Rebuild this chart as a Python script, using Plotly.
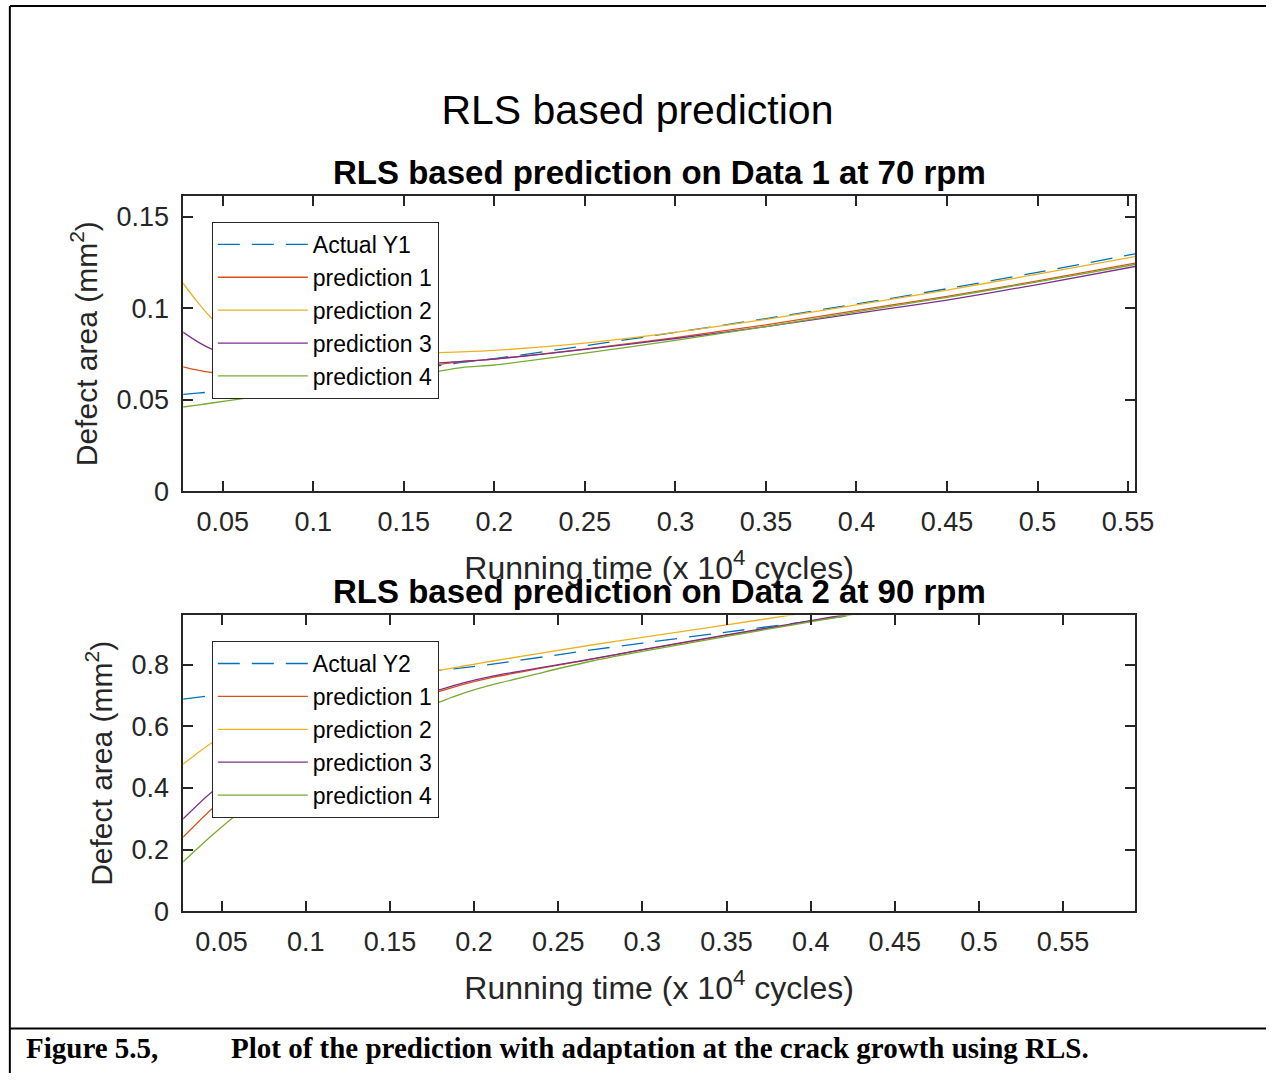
import plotly.graph_objects as go

# ---------------- data ----------------
x_top = [0.028, 0.036, 0.044, 0.06, 0.08, 0.1, 0.125, 0.15, 0.182, 0.2, 0.25, 0.3, 0.35, 0.417, 0.45, 0.5, 0.554]
actual_y1 = [0.0529, 0.0536, 0.0543, 0.0558, 0.0577, 0.0598, 0.0626, 0.0656, 0.0705, 0.0725, 0.0795, 0.0868, 0.0944, 0.1051, 0.1107, 0.1197, 0.1298]
top_pred1 = [0.0680, 0.0662, 0.0649, 0.0640, 0.0638, 0.0642, 0.0650, 0.0668, 0.0708, 0.0722, 0.0777, 0.0840, 0.0910, 0.1015, 0.1065, 0.1150, 0.1248]
top_pred2 = [0.1139, 0.1035, 0.0945, 0.0850, 0.0790, 0.0765, 0.0752, 0.0752, 0.0762, 0.0770, 0.0810, 0.0868, 0.0940, 0.1046, 0.1100, 0.1187, 0.1283]
top_pred3 = [0.0870, 0.0818, 0.0777, 0.0735, 0.0705, 0.0690, 0.0685, 0.0690, 0.0710, 0.0722, 0.0775, 0.0835, 0.0900, 0.0997, 0.1045, 0.1130, 0.1229]
top_pred4 = [0.0460, 0.0471, 0.0482, 0.0505, 0.0533, 0.0560, 0.0592, 0.0625, 0.0676, 0.0690, 0.0755, 0.0825, 0.0900, 0.1008, 0.1060, 0.1145, 0.1240]

x_bot = [0.027, 0.044, 0.062, 0.08, 0.1, 0.125, 0.15, 0.193, 0.211, 0.27, 0.3, 0.35, 0.387, 0.42, 0.45, 0.5]
actual_y2 = [0.688, 0.700, 0.711, 0.722, 0.734, 0.749, 0.764, 0.790, 0.802, 0.848, 0.870, 0.906, 0.932, 0.957, 0.979, 1.015]
bot_pred1 = [0.240, 0.331, 0.408, 0.474, 0.537, 0.605, 0.661, 0.735, 0.759, 0.818, 0.848, 0.895, 0.929, 0.960, 0.988, 1.035]
bot_pred2 = [0.477, 0.546, 0.598, 0.640, 0.680, 0.720, 0.752, 0.795, 0.812, 0.864, 0.889, 0.929, 0.960, 0.985, 1.010, 1.050]
bot_pred3 = [0.299, 0.386, 0.452, 0.508, 0.562, 0.620, 0.668, 0.740, 0.763, 0.819, 0.849, 0.897, 0.931, 0.962, 0.990, 1.037]
bot_pred4 = [0.160, 0.245, 0.327, 0.398, 0.468, 0.548, 0.616, 0.706, 0.735, 0.812, 0.843, 0.892, 0.927, 0.958, 0.987, 1.033]

x_tickvals = [0.05, 0.1, 0.15, 0.2, 0.25, 0.3, 0.35, 0.4, 0.45, 0.5, 0.55]
x_ticktext = ["0.05", "0.1", "0.15", "0.2", "0.25", "0.3", "0.35", "0.4", "0.45", "0.5", "0.55"]
y1_tickvals = [0, 0.05, 0.1, 0.15]
y1_ticktext = ["0", "0.05", "0.1", "0.15"]
y2_tickvals = [0, 0.2, 0.4, 0.6, 0.8]
y2_ticktext = ["0", "0.2", "0.4", "0.6", "0.8"]

names_top = ["Actual Y1", "prediction 1", "prediction 2", "prediction 3", "prediction 4"]
names_bot = ["Actual Y2", "prediction 1", "prediction 2", "prediction 3", "prediction 4"]
colors = ["#0072BD", "#D95319", "#EDB120", "#7E2F8E", "#77AC30"]

# ---------------- figure ----------------
W, H = 1285, 1088
def px(x):
    return x / W
def py(y):
    return 1 - y / H

fig = go.Figure()
top_series = [actual_y1, top_pred1, top_pred2, top_pred3, top_pred4]
bot_series = [actual_y2, bot_pred1, bot_pred2, bot_pred3, bot_pred4]
for i, (nm, ys) in enumerate(zip(names_top, top_series)):
    fig.add_trace(go.Scatter(x=x_top, y=ys, name=nm, mode="lines",
                             line=dict(color=colors[i], width=1.3, shape="spline", smoothing=0.6,
                                       dash="22px,12px" if i == 0 else "solid"),
                             xaxis="x", yaxis="y", legend="legend"))
for i, (nm, ys) in enumerate(zip(names_bot, bot_series)):
    fig.add_trace(go.Scatter(x=x_bot, y=ys, name=nm, mode="lines",
                             line=dict(color=colors[i], width=1.3, shape="spline", smoothing=0.6,
                                       dash="22px,12px" if i == 0 else "solid"),
                             xaxis="x2", yaxis="y2", legend="legend2"))

axcol = "#262626"
tickfont = dict(family="Liberation Sans, Arial", size=27, color=axcol)
xtitlefont = dict(family="Liberation Sans, Arial", size=32, color=axcol)
ytitlefont = dict(family="Liberation Sans, Arial", size=30, color=axcol)
common = dict(showline=True, linecolor=axcol, linewidth=1.6, mirror="allticks", ticks="inside",
              ticklen=10, tickwidth=1.6, tickcolor=axcol, showgrid=False, zeroline=False,
              tickfont=tickfont, automargin=True)

legfont = dict(family="Liberation Sans, Arial", size=23, color="black")

fig.update_layout(
    width=W, height=H, margin=dict(l=0, r=0, t=0, b=0),
    paper_bgcolor="white", plot_bgcolor="white",
    title=dict(text="RLS based prediction", x=px(647), y=py(111), xref="paper", yref="paper",
               xanchor="center", yanchor="middle",
               font=dict(family="Liberation Sans, Arial", size=41, color="black")),
    xaxis=dict(domain=[px(186), px(1152)], range=[0.0282, 0.5538], anchor="y",
               tickvals=x_tickvals, ticktext=x_ticktext, ticklabelstandoff=6,
               title=dict(text="Running time (x 10<sup>4</sup> cycles)", font=xtitlefont, standoff=20), **common),
    yaxis=dict(domain=[py(498), py(199)], range=[0, 0.1613], anchor="x",
               tickvals=y1_tickvals, ticktext=y1_ticktext, ticklabelstandoff=7,
               title=dict(text="Defect area (mm<sup>2</sup>)", font=ytitlefont, standoff=10), **common),
    xaxis2=dict(domain=[px(186), px(1152)], range=[0.0272, 0.5927], anchor="y2",
                tickvals=x_tickvals, ticktext=x_ticktext, ticklabelstandoff=6,
                title=dict(text="Running time (x 10<sup>4</sup> cycles)", font=xtitlefont, standoff=20), **common),
    yaxis2=dict(domain=[py(924), py(624)], range=[0, 0.96], anchor="x2",
                tickvals=y2_tickvals, ticktext=y2_ticktext, ticklabelstandoff=7,
                title=dict(text="Defect area (mm<sup>2</sup>)", font=ytitlefont, standoff=10), **common),
    legend=dict(x=px(215), y=py(225), xanchor="left", yanchor="top", bgcolor="white",
                bordercolor=axcol, borderwidth=1, itemwidth=90, font=legfont),
    legend2=dict(x=px(215), y=py(650), xanchor="left", yanchor="top", bgcolor="white",
                 bordercolor=axcol, borderwidth=1, itemwidth=90, font=legfont),
    showlegend=True,
)

# subplot titles
for txt, yy in [("<b>RLS based prediction on Data 1 at 70 rpm</b>", 175),
                ("<b>RLS based prediction on Data 2 at 90 rpm</b>", 600)]:
    fig.add_annotation(text=txt, x=px(669), y=py(yy), xref="paper", yref="paper",
                       xanchor="center", yanchor="middle", showarrow=False,
                       font=dict(family="Liberation Sans, Arial", size=33, color="black"))

# caption
fig.add_annotation(text="<b>Figure 5.5,</b>", x=px(24), y=py(1063), xref="paper", yref="paper",
                   xanchor="left", yanchor="middle", showarrow=False,
                   font=dict(family="Liberation Serif, Times New Roman", size=29, color="black"))
fig.add_annotation(text="<b>Plot of the prediction with adaptation at the crack growth using RLS.</b>",
                   x=px(232), y=py(1063), xref="paper", yref="paper",
                   xanchor="left", yanchor="middle", showarrow=False,
                   font=dict(family="Liberation Serif, Times New Roman", size=29, color="black"))

# page border lines
border = dict(color="black", width=2)
fig.add_shape(type="line", xref="paper", yref="paper", x0=px(10), x1=1, y0=py(6), y1=py(6), line=border)
fig.add_shape(type="line", xref="paper", yref="paper", x0=px(10), x1=px(10), y0=py(6), y1=0, line=border)
fig.add_shape(type="line", xref="paper", yref="paper", x0=px(10), x1=1, y0=py(1043), y1=py(1043), line=border)

fig.write_html("out.html")
